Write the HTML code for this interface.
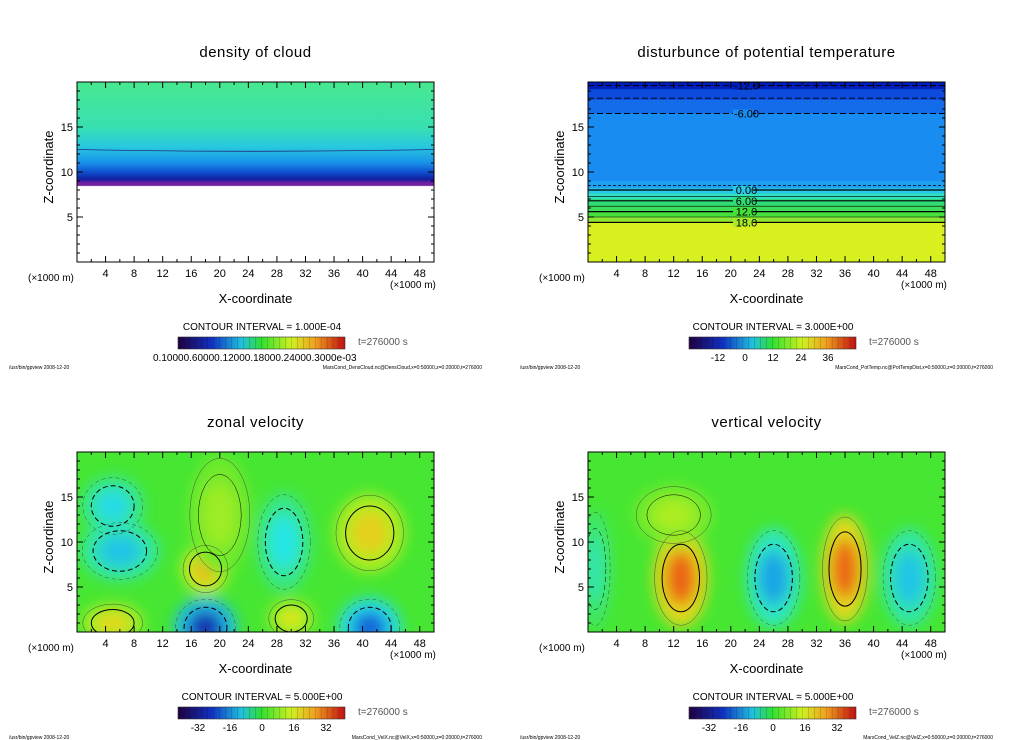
<!DOCTYPE html>
<html><head><meta charset="utf-8">
<style>
body{margin:0;background:#fff;width:1024px;height:740px;overflow:hidden;font-family:"Liberation Sans",sans-serif}
svg{display:block}
</style></head>
<body>
<svg id="fig" width="1024" height="740" xmlns="http://www.w3.org/2000/svg">
<defs>
<filter id="blur" x="-50%" y="-50%" width="200%" height="200%"><feGaussianBlur stdDeviation="7"/></filter>
<linearGradient id="cbar" x1="0" x2="1" y1="0" y2="0">
<stop offset="0" stop-color="#200040"/><stop offset="0.2" stop-color="#1030c0"/><stop offset="0.38" stop-color="#20c0e0"/><stop offset="0.5" stop-color="#30e030"/><stop offset="0.68" stop-color="#d0f020"/><stop offset="0.82" stop-color="#f0a020"/><stop offset="1" stop-color="#c01010"/>
</linearGradient>
</defs>
</svg>
<script>
// ---- data ----
const xTicks=[4,8,12,16,20,24,28,32,36,40,44,48];
const zTicks=[5,10,15];
const titles=["density of cloud","disturbunce of potential temperature","zonal velocity","vertical velocity"];
const intervals=["CONTOUR INTERVAL = 1.000E-04","CONTOUR INTERVAL = 3.000E+00","CONTOUR INTERVAL = 5.000E+00","CONTOUR INTERVAL = 5.000E+00"];
const footers=["MarsCond_DensCloud.nc@DensCloud,x=0:50000,z=0:20000,t=276000","MarsCond_PotTemp.nc@PotTempDist,x=0:50000,z=0:20000,t=276000","MarsCond_VelX.nc@VelX,x=0:50000,z=0:20000,t=276000","MarsCond_VelZ.nc@VelZ,x=0:50000,z=0:20000,t=276000"];
const cbarLabels=[["0.10000.60000.12000.18000.24000.3000e-03"],["-12","0","12","24","36"],["-32","-16","0","16","32"],["-32","-16","0","16","32"]];
// zonal velocity blobs: x, z, rx, rz, value
const uX=[18,41,5,30,20,5,6,18,29,41];
const uZ=[7,11,1,1.5,13,14,9,0.5,10,0.5];
const uRX=[3,4.5,4,3,4,4,5,4,3.5,4];
const uRZ=[2.5,4,2,2,6,3,3,3,5,3];
const uV=[18,14,13,11,6,-11,-13,-28,-10,-22];
// vertical velocity blobs
const wX=[13,36,12,26,45,1];
const wZ=[6,7,13,6,6,7];
const wRX=[3.5,3,5,3.5,3.5,2];
const wRZ=[5,5.5,3,5,5,6];
const wV=[26,26,7,-16,-13,-7];
// potential temperature bands: z top, value
const thZ=[20,19.2,18,16.5,9,8.2,7.6,7,6.3,5.6,5,4.5];
const thV=[-14,-11,-9,-7,-2,0,3,6,9,12,15,18];

const NS="http://www.w3.org/2000/svg";
const svg=document.getElementById('fig');
function el(t,a,p){const e=document.createElementNS(NS,t);for(const k in a)e.setAttribute(k,a[k]);(p||svg).appendChild(e);return e;}
function txt(s,a,p){const e=el('text',a,p);e.textContent=s;return e;}
function interp(st,v){
  if(v<=st[0][0])return `rgb(${st[0][1]})`;
  for(let i=1;i<st.length;i++){if(v<=st[i][0]){const [a,ca]=st[i-1],[b,cb]=st[i];const t=(v-a)/(b-a);return `rgb(${ca.map((c,j)=>Math.round(c+(cb[j]-c)*t)).join(',')})`;}}
  return `rgb(${st[st.length-1][1]})`;
}
function col(v){
  return interp([[-32,[20,20,150]],[-20,[20,120,230]],[-10,[40,230,230]],[0,[70,230,50]],[10,[215,240,30]],[20,[250,160,20]],[32,[220,40,20]]],v);
}
function thCol(v){
  return interp([[-14,[0,30,190]],[-10,[16,90,230]],[-7,[24,140,240]],[-2,[32,160,240]],[0,[40,200,230]],[3,[48,224,190]],[6,[48,220,120]],[12,[70,224,60]],[15,[140,232,50]],[18,[216,240,32]]],v);
}
const panels=[[0,0],[511,0],[0,370],[511,370]];
panels.forEach(([ox,oy],i)=>{
  const g=el('g',{transform:`translate(${ox},${oy})`});
  
  
  const L=77,R=434,T=82,B=262;
  const sx=x=>L+(x/50)*(R-L), sz=z=>B-(z/20)*(B-T);
  const cp=el('clipPath',{id:'cp'+i},g);el('rect',{x:L,y:T,width:R-L,height:B-T},cp);
  const plot=el('g',{'clip-path':`url(#cp${i})`},g);
  
  
  if(i===0){
    const gr=el('linearGradient',{id:'gd',x1:0,x2:0,y1:0,y2:1},svg.querySelector('defs'));
    [[0,'#48e890'],[0.25,'#38e0b0'],[0.36,'#28c8e0'],[0.45,'#1890e8'],[0.5,'#1050d0'],[0.54,'#1020a0'],[0.56,'#7020a0'],[0.575,'#7020a0'],[0.58,'#ffffff'],[1,'#ffffff']].forEach(s=>el('stop',{offset:s[0],'stop-color':s[1]},gr));
    el('rect',{x:L,y:T,width:R-L,height:B-T,fill:'url(#gd)'},plot);
    el('path',{d:`M${L} ${sz(12.5)} Q${sx(25)} ${sz(12.1)} ${R} ${sz(12.5)}`,stroke:'#203080','stroke-width':0.8,fill:'none'},plot);
  } else if(i===1){
    for(let k=0;k<thZ.length;k++){
      const top=sz(thZ[k]),bot=k+1<thZ.length?sz(thZ[k+1]):B;
      const r=el('rect',{x:L,y:top,width:R-L,height:bot-top+0.5,fill:thCol(thV[k])},plot);
      
      
    }
    [[19.6,'6 3',1],[18.2,'6 3',0.8],[16.5,'6 3',1],[8.5,'3 2',0.7],[8,'',1.2],[7.3,'',0.6],[6.8,'',1.2],[6.2,'',0.6],[5.6,'',1.2],[5,'',0.6],[4.4,'',1.2]].forEach(([z,d,w])=>{
      const l=el('line',{x1:L,x2:R,y1:sz(z),y2:sz(z),stroke:'#000','stroke-width':w,'stroke-dasharray':d},plot);
      
      
    });
    [['-12.0',19.6,thCol(-14)],['-6.00',16.5,thCol(-7)],['0.00',8,thCol(0)],['6.00',6.8,thCol(6)],['12.0',5.6,thCol(12)],['18.0',4.4,thCol(16)]].forEach(([s,z,c])=>{
      el('rect',{x:sx(20.3),y:sz(z)-4,width:20,height:8,fill:c},plot);
      txt(s,{x:sx(22.2),y:sz(z)+4,'font-size':11,'text-anchor':'middle',fill:'#000'},plot);
    });
  } else {
    const X=i===2?uX:wX,Z=i===2?uZ:wZ,RX=i===2?uRX:wRX,RZ=i===2?uRZ:wRZ,V=i===2?uV:wV;
    el('rect',{x:L,y:T,width:R-L,height:B-T,fill:col(0)},plot);
    const bg=el('g',{filter:'url(#blur)'},plot);
    for(let k=0;k<X.length;k++){
      const e=el('ellipse',{cx:sx(X[k]),cy:sz(Z[k]),rx:(RX[k]/50)*(R-L)*1.1,ry:(RZ[k]/20)*(B-T)*1.1,fill:col(V[k]*0.5)},bg);
      
      
      const e2=el('ellipse',{cx:sx(X[k]),cy:sz(Z[k]),rx:(RX[k]/50)*(R-L)*0.6,ry:(RZ[k]/20)*(B-T)*0.6,fill:col(V[k])},bg);
      
      
      el('ellipse',{cx:sx(X[k]),cy:sz(Z[k]),rx:(RX[k]/50)*(R-L)*0.75,ry:(RZ[k]/20)*(B-T)*0.75,fill:'none',stroke:'#000','stroke-width':Math.abs(V[k])>9?1:0.5,'stroke-dasharray':V[k]<0?'5 3':''},plot);
      el('ellipse',{cx:sx(X[k]),cy:sz(Z[k]),rx:(RX[k]/50)*(R-L)*1.05,ry:(RZ[k]/20)*(B-T)*1.05,fill:'none',stroke:'#333','stroke-width':0.4,'stroke-dasharray':V[k]<0?'4 3':''},plot);
    }
  }
  // frame & ticks
  el('rect',{x:L,y:T,width:R-L,height:B-T,fill:'none',stroke:'#000','stroke-width':1},g);
  for(let x=2;x<50;x+=2){const big=x%4===0;el('line',{x1:sx(x),x2:sx(x),y1:B,y2:B-(big?6:3),stroke:'#000'},g);el('line',{x1:sx(x),x2:sx(x),y1:T,y2:T+(big?6:3),stroke:'#000'},g);}
  for(let z=1;z<20;z++){const big=z%5===0;el('line',{x1:L,x2:L+(big?6:3),y1:sz(z),y2:sz(z),stroke:'#000'},g);el('line',{x1:R,x2:R-(big?6:3),y1:sz(z),y2:sz(z),stroke:'#000'},g);}
  xTicks.forEach(x=>{const t=txt(x,{x:sx(x),y:B+15,'font-size':11,'text-anchor':'middle'},g);});
  zTicks.forEach(z=>{const t=txt(z,{x:L-4,y:sz(z)+4,'font-size':11,'text-anchor':'end'},g);});
  const ti=txt(titles[i],{x:(L+R)/2,y:57,'font-size':15,'text-anchor':'middle','letter-spacing':'0.5'},g);
  
  const yl=txt('Z-coordinate',{x:0,y:0,'font-size':13,'text-anchor':'middle',transform:`translate(53,${(T+B)/2-5}) rotate(-90)`},g);
  
  const xl=txt('X-coordinate',{x:(L+R)/2,y:303,'font-size':13,'text-anchor':'middle'},g);
  
  txt('(×1000 m)',{x:28,y:281,'font-size':10},g);
  txt('(×1000 m)',{x:390,y:288,'font-size':10},g);
  const ci=txt(intervals[i],{x:262,y:330,'font-size':10,'text-anchor':'middle'},g);
  
  const cb=el('rect',{x:178,y:337,width:167,height:12,fill:'url(#cbar)',stroke:'#333','stroke-width':0.6},g);
  
  for(let k=1;k<28;k++)el('line',{x1:178+k*167/28,x2:178+k*167/28,y1:337,y2:349,stroke:'#000','stroke-width':0.3,opacity:0.5},g);
  const labs=cbarLabels[i];
  if(labs.length===1)txt(labs[0],{x:153,y:361,'font-size':10},g);
  else labs.forEach((s,k)=>{const pos=i===1?[207,234,262,290,317][k]:[198,230,262,294,326][k];const t=txt(s,{x:pos,y:361,'font-size':10,'text-anchor':'middle'},g);});
  txt('t=276000  s',{x:358,y:345,'font-size':10,fill:'#555'},g);
  txt('/usr/bin/gpview   2008-12-20',{x:9,y:369,'font-size':5},g);
  txt(footers[i],{x:482,y:369,'font-size':5,'text-anchor':'end'},g);
});
</script>
</body></html>
